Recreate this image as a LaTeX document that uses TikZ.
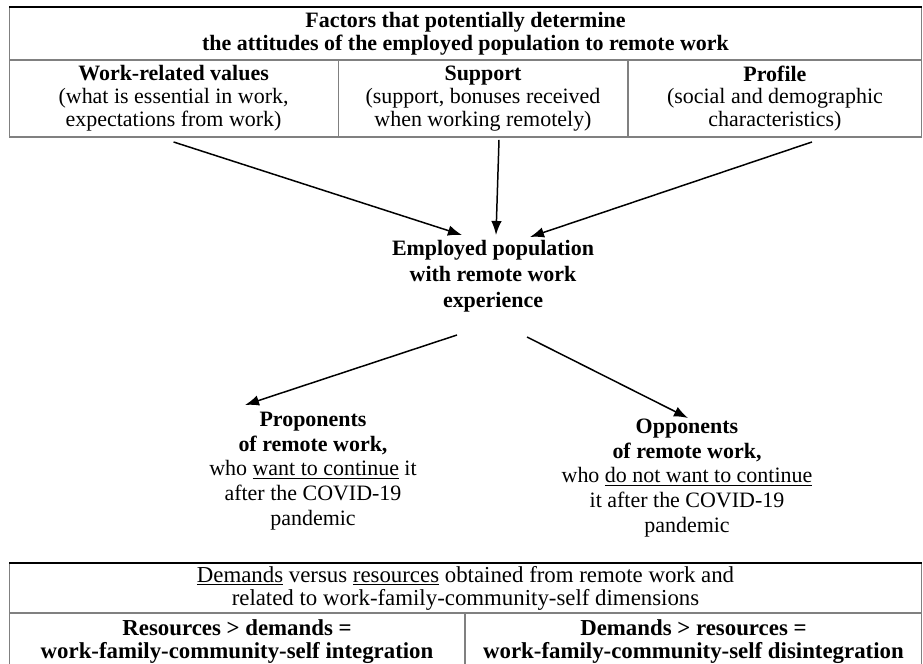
\documentclass[tikz,border=0pt]{standalone}
\usepackage{fontspec}
\setmainfont{Liberation Serif}
\usetikzlibrary{arrows.meta,positioning}

\begin{document}
\begin{tikzpicture}[%
        x=0.02cm, y=-0.02cm,
        every node/.style={align=center, inner sep=0pt, font=\fontsize{12.5}{13}\selectfont},
        cell/.style={draw=black!50, line width=0.6pt, outer sep=0pt},
        grp/.style={font=\fontsize{12.5}{14.7}\selectfont\bfseries},
        side/.style={font=\fontsize{12.5}{14.1}\selectfont},
        line width=0.85pt, >={Latex[length=8pt,width=6pt]}
      ]
      \useasboundingbox (0,0) rectangle (923,663);
      \node [cell, minimum width=18.26cm, minimum height=1.06cm] (fac) at (465.5,33.5)
        {\textbf{Factors that potentially determine}\\\textbf{the attitudes of the employed population to remote work}};
      \node [cell, minimum width=6.58cm, minimum height=1.54cm, below right=0pt of fac.south west] (val)
        {\textbf{Work-related values}\\(what is essential in work,\\expectations from work)};
      \node [cell, minimum width=5.8cm, minimum height=1.54cm, right=0pt of val] (sup)
        {\textbf{Support}\\(support, bonuses received\\when working remotely)};
      \node [cell, minimum width=5.88cm, minimum height=1.54cm, right=0pt of sup] (prof)
        {\textbf{Profile}\\(social and demographic\\characteristics)};
      \draw [line width=1pt] (fac.north west) -- (fac.north east);

      \node [grp] (emp) at (493,276) {Employed population\\with remote work\\experience};
      \node [side] (pro) at (313,471) {\textbf{Proponents}\\\textbf{of remote work,}\\who \underline{want to continue} it\\after the COVID-19\\pandemic};
      \node [side] (opp) at (687,478) {\textbf{Opponents}\\\textbf{of remote work,}\\who \underline{do not want to continue}\\it after the COVID-19\\pandemic};

      \path [draw] ([shift={(0,5)}]val.south) edge[->] ([shift={(-31,-41)}]emp.center)
      ([shift={(16,3)}]sup.south) edge[->] ([shift={(3,-41)}]emp.center)
      ([shift={(37,5)}]prof.south) edge[->] ([shift={(37,-39)}]emp.center)
      ([shift={(-36,59)}]emp.center) edge[->] ([shift={(-68,-66)}]pro.center)
      ([shift={(34,61)}]emp.center) edge[->] ([shift={(1,-60)}]opp.center);

      \node [cell, minimum width=18.26cm, minimum height=1.0cm, font=\fontsize{13}{13}\selectfont] (dvr) at (465.5,588)
        {\underline{Demands} versus \underline{resources} obtained from remote work and\\related to work-family-community-self dimensions};
      \node [cell, minimum width=9.12cm, minimum height=1.14cm, font=\fontsize{13}{13}\selectfont\bfseries, below right=0pt of dvr.south west] (rint)
        {Resources > demands =\\work-family-community-self integration};
      \node [cell, minimum width=9.14cm, minimum height=1.14cm, font=\fontsize{13}{13}\selectfont\bfseries, right=0pt of rint] (rdis)
        {Demands > resources =\\work-family-community-self disintegration};
      \draw [line width=1pt] (dvr.north west) -- (dvr.north east);
    \end{tikzpicture}
\end{document}
